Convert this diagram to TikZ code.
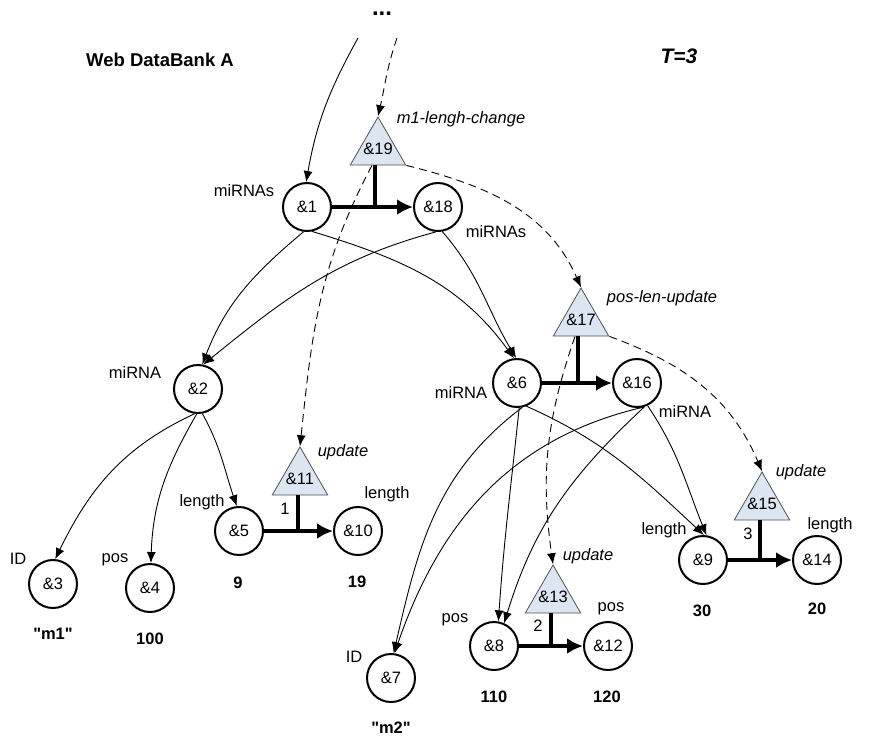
\documentclass[tikz,border=0pt]{standalone}
\usepackage{fontspec}
\setmainfont{Liberation Sans}
\usetikzlibrary{shapes.geometric,arrows.meta}
\definecolor{opfill}{RGB}{220,230,242}
\definecolor{opline}{RGB}{80,80,80}
% operation text: zero-size box so the triangle keeps its own size
\newcommand{\optext}[1]{\makebox[0pt]{\raisebox{-5pt}[0pt][0pt]{#1}}}

\begin{document}
\begin{tikzpicture}[x=1pt,y=1pt,
  font=\fontsize{16.5}{19}\selectfont,
  obj/.style={circle,draw,line width=2pt,minimum size=48pt,inner sep=0pt},
  op/.style={regular polygon,regular polygon sides=3,draw=opline,line width=0.8pt,
             fill=opfill,minimum size=64pt,inner sep=0pt},
  lbl/.style={inner sep=0pt},
  val/.style={inner sep=0pt,font=\fontsize{16.5}{19}\selectfont\bfseries},
  opname/.style={inner sep=0pt,font=\fontsize{16.5}{19}\selectfont\itshape},
  edge/.style={-{Latex[length=11pt,width=9pt]},line width=0.9pt},
  flow/.style={-{Latex[length=11pt,width=9pt]},line width=0.9pt,dash pattern=on 8pt off 5pt},
  change/.style={-{Latex[length=16pt,width=16pt]},line width=4pt},
  hook/.style={line width=3.5pt},
]
\useasboundingbox (0,0) rectangle (877,-740);

% headings
\node[inner sep=0pt,font=\fontsize{18.5}{22}\selectfont\bfseries] (title) at (160,-60) {Web DataBank A};
\node[inner sep=0pt,font=\fontsize{21}{24}\selectfont\bfseries\itshape] (time) at (679,-56) {T=3};
\node[inner sep=0pt,anchor=base,font=\fontsize{24}{26}\selectfont\bfseries] (more) at (382,-15) {...};
\coordinate (s1) at (358,-38);
\coordinate (s2) at (397,-38);

% object nodes
\node[obj] (n1)  at (307,-207) {\&1};
\node[obj] (n18) at (438,-207) {\&18};
\node[obj] (n2)  at (198,-389) {\&2};
\node[obj] (n3)  at (53,-584)  {\&3};
\node[obj] (n4)  at (150,-588) {\&4};
\node[obj] (n5)  at (239,-531) {\&5};
\node[obj] (n10) at (358,-531) {\&10};
\node[obj] (n6)  at (517,-383) {\&6};
\node[obj] (n16) at (637,-383) {\&16};
\node[obj] (n7)  at (391,-678) {\&7};
\node[obj] (n8)  at (494,-646) {\&8};
\node[obj] (n12) at (608,-646) {\&12};
\node[obj] (n9)  at (703,-560) {\&9};
\node[obj] (n14) at (817,-560) {\&14};

% operation nodes
\node[op] (t19) at (378,-149) {\optext{\&19}};
\node[op] (t11) at (300,-479) {\optext{\&11}};
\node[op] (t17) at (581,-320) {\optext{\&17}};
\node[op] (t13) at (553,-597) {\optext{\&13}};
\node[op] (t15) at (762,-504) {\optext{\&15}};

% labels
\node[lbl] (l1)  at (244,-191) {miRNAs};
\node[lbl] (l18) at (496,-232) {miRNAs};
\node[lbl] (l2)  at (135,-373) {miRNA};
\node[lbl] (l3)  at (18,-559)  {ID};
\node[lbl] (l4)  at (115,-560) {pos};
\node[lbl] (l5)  at (202,-502) {length};
\node[lbl] (l10) at (387,-494) {length};
\node[lbl] (l6)  at (461,-393) {miRNA};
\node[lbl] (l16) at (685,-412) {miRNA};
\node[lbl] (l7)  at (354,-657) {ID};
\node[lbl] (l8)  at (455,-620) {pos};
\node[lbl] (l12) at (611,-609) {pos};
\node[lbl] (l9)  at (664,-530) {length};
\node[lbl] (l14) at (830,-525) {length};
\node[lbl] (k1)  at (285,-509) {1};
\node[lbl] (k2)  at (538,-626) {2};
\node[lbl] (k3)  at (748,-534) {3};

\node[opname] (o19) at (461,-119) {m1-lengh-change};
\node[opname] (o11) at (343,-452) {update};
\node[opname] (o17) at (662,-298) {pos-len-update};
\node[opname] (o13) at (588,-556) {update};
\node[opname] (o15) at (801,-472) {update};

% values
\node[val] (v3)  at (53,-634)  {\textquotedbl m1\textquotedbl};
\node[val] (v4)  at (150,-639) {100};
\node[val] (v5)  at (238,-583) {9};
\node[val] (v10) at (357,-582) {19};
\node[val] (v7)  at (391,-728) {\textquotedbl m2\textquotedbl};
\node[val] (v8)  at (494,-697) {110};
\node[val] (v12) at (607,-697) {120};
\node[val] (v9)  at (702,-611) {30};
\node[val] (v14) at (817,-609) {20};

% tree edges
\draw[edge] (s1) to[out=241,in=80] (n1.92);
\draw[edge] (n1.262) to[out=220,in=69] (n2.80);
\draw[edge] (n18.265) to[out=195,in=39] (n2.78);
\draw[edge] (n1.282) to[out=343,in=126] (n6.97);
\draw[edge] (n18.280) to[out=311,in=121] (n6.92);
\draw[edge] (n2.262) to[out=205,in=64] (n3.85);
\draw[edge] (n2.267) to[out=240,in=88] (n4.88);
\draw[edge] (n2.280) to[out=299,in=109] (n5.95);
\draw[edge] (n6.282) to[out=217,in=77] (n7.84);
\draw[edge] (n6.275) to[out=264,in=86] (n8.80);
\draw[edge] (n6.292) to[out=336,in=137] (n9.88);
\draw[edge] (n16.285) to[out=193,in=71] (n7.82);
\draw[edge] (n16.287) to[out=223,in=73] (n8.66);
\draw[edge] (n16.295) to[out=304,in=112] (n9.82);

% changes and their operations
\draw[change] (n1) -- (n18);
\draw[hook] ([xshift=-3pt]t19.side 2) -- ([xshift=-3pt]t19.side 2 |- n1.east);
\draw[change] (n5) -- (n10);
\draw[hook] ([xshift=-2pt]t11.side 2) -- ([xshift=-2pt]t11.side 2 |- n5.east);
\draw[change] (n6) -- (n16);
\draw[hook] ([xshift=-3pt]t17.side 2) -- ([xshift=-3pt]t17.side 2 |- n6.east);
\draw[change] (n8) -- (n12);
\draw[hook] ([xshift=-2pt]t13.side 2) -- ([xshift=-2pt]t13.side 2 |- n8.east);
\draw[change] (n9) -- (n14);
\draw[hook] ([xshift=-2pt]t15.side 2) -- ([xshift=-2pt]t15.side 2 |- n9.east);

% operation flow
\draw[flow] (s2) to[out=251,in=77] (t19.corner 1);
\draw[flow] ([xshift=-6pt]t19.side 2) to[out=242,in=84] (t11.corner 1);
\draw[flow] (t19.corner 3) to[out=346,in=114] (t17.corner 1);
\draw[flow] ([xshift=-6pt]t17.side 2) to[out=251,in=98] (t13.corner 1);
\draw[flow] (t17.corner 3) to[out=340,in=113] (t15.corner 1);
\end{tikzpicture}
\end{document}
